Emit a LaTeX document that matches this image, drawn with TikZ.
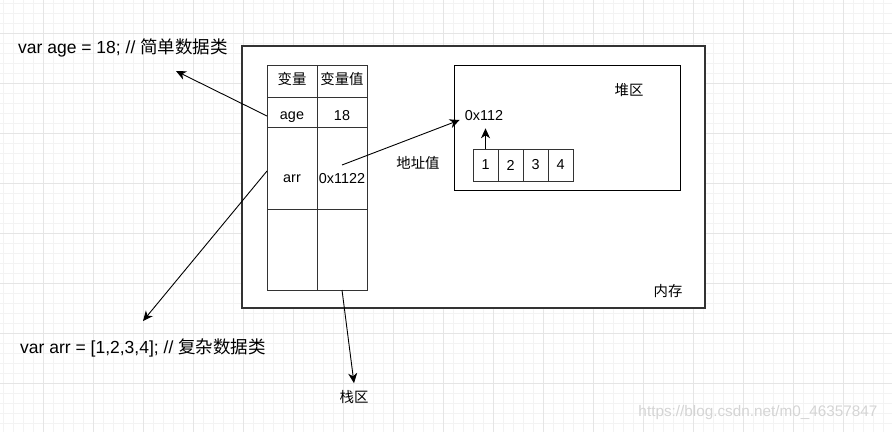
\documentclass[tikz,border=0pt]{standalone}
\usepackage{fontspec}
\setmainfont{Liberation Sans}
\newfontfamily\cjk{Noto Sans CJK SC}
\usetikzlibrary{arrows.meta,positioning}
\definecolor{LineGray}{HTML}{333333}
\definecolor{GridMinor}{HTML}{F3F3F3}
\definecolor{GridMajor}{HTML}{E5E5E5}
\definecolor{MarcaGray}{HTML}{D4D4D4}
\tikzset{
  celda/.style  = {draw=LineGray, line width=0.9pt, minimum width=50pt,
                   inner sep=0pt, outer sep=0pt},
  cuadro/.style = {draw=LineGray, line width=0.9pt, minimum width=25pt,
                   minimum height=32pt, inner sep=0pt, outer sep=0pt,
                   font=\fontsize{14.4}{16}\selectfont},
  zona/.style   = {draw, line width=1pt, inner sep=0pt, outer sep=0pt,
                   anchor=north west},
  flecha/.style = {-{Stealth[length=10pt,width=9pt,inset=3pt]}, line width=0.9pt},
  txt/.style    = {font=\fontsize{14.4}{16}\selectfont, inner sep=2pt},
  lbl/.style    = {font=\cjk\fontsize{14.4}{16}\selectfont, inner sep=2pt},
  nota/.style   = {font=\fontsize{17.5}{20}\selectfont, anchor=west, inner sep=0pt},
  marca/.style  = {font=\fontsize{15.3}{17}\selectfont, text=MarcaGray},
}
\begin{document}
\begin{tikzpicture}[x=1pt,y=-1pt]
  \useasboundingbox (0,0) rectangle (892,432);
  % cuadricula de fondo
  \foreach \x in {3,13,...,893} \draw[GridMinor, line width=0.6pt] (\x,0) -- (\x,432);
  \foreach \y in {3,13,...,433} \draw[GridMinor, line width=0.6pt] (0,\y) -- (892,\y);
  \foreach \x in {43,93,...,893} \draw[GridMajor, line width=0.8pt] (\x,0) -- (\x,432);
  \foreach \y in {33,83,...,433} \draw[GridMajor, line width=0.8pt] (0,\y) -- (892,\y);

  % memoria y heap
  \node[zona, fill=white, draw=LineGray, line width=1.1pt, minimum width=463pt, minimum height=262pt] (mem) at (242,46) {};
  \node[lbl] (neicun) at (668,291) {内存};
  \node[zona, minimum width=226pt, minimum height=125pt] (heap) at (454,65) {};
  \node[lbl] (duiqu) at (629,90) {堆区};

  % tabla de la pila
  \node[celda, minimum height=32pt, anchor=north west] (h1) at (267,65) {};
  \node[celda, minimum height=32pt, right=0pt of h1] (h2) {};
  \node[celda, minimum height=30pt, below=0pt of h1] (k1) {};
  \node[celda, minimum height=30pt, below=0pt of h2] (v1) {};
  \node[celda, minimum height=82pt, below=0pt of k1] (k2) {};
  \node[celda, minimum height=82pt, below=0pt of v1] (v2) {};
  \node[celda, minimum height=81pt, below=0pt of k2] (k3) {};
  \node[celda, minimum height=81pt, below=0pt of v2] (v3) {};
  \node[lbl] (th1) at (292,79) {变量};
  \node[lbl] (th2) at (342,79) {变量值};
  \node[txt] (tk1) at (292,117) {age};
  \node[txt] (tv1) at (342,116) {18};
  \node[txt] (tk2) at (292,179) {arr};
  \node[txt] (tv2) at (342,179) {0x1122};

  % array en el heap
  \node[cuadro, anchor=north west] (c1) at (473,149) {1};
  \node[cuadro, right=0pt of c1] (c2) {2};
  \node[cuadro, right=0pt of c2] (c3) {3};
  \node[cuadro, right=0pt of c3] (c4) {4};
  \node[txt] (h0) at (484,116) {0x112};
  \node[lbl] (dizhi) at (418,163) {地址值};

  % textos de fuera
  \node[nota] (tAge) at (18,48) {var age = 18; // {\cjk 简单数据类}};
  \node[nota] (tArr) at (20,348) {var arr = [1,2,3,4]; // {\cjk 复杂数据类}};
  \node[lbl] (zhan) at (354,397) {栈区};
  \node[marca] (wm) at (758,413) {https://blog.csdn.net/m0\_46357847};

  \coordinate (pAge) at (176,71);
  \coordinate (pArr) at (143,321);

  \draw[flecha] ([yshift=-4pt]k1.west) -- (pAge);
  \draw[flecha] ([yshift=-3pt]k2.west) -- (pArr);
  \draw[flecha] ([yshift=3pt]v2.center) -- ([xshift=-3pt,yshift=-4pt]h0.west);
  \draw[flecha, shorten >=5pt] (c1.north) -- (c1.north |- h0.south);
  \draw[flecha] (v3.south) -- ([yshift=5pt]zhan.north);
\end{tikzpicture}
\end{document}
